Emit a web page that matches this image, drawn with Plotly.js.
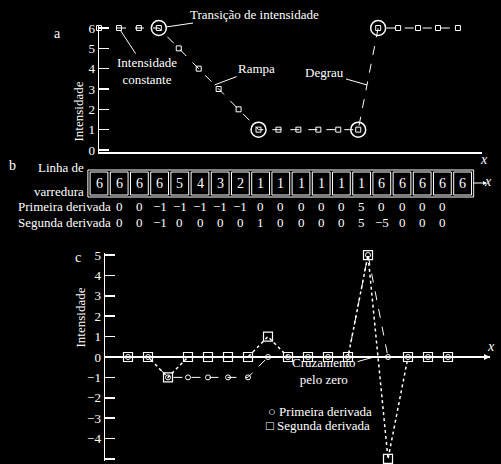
<!DOCTYPE html>
<html>
<head>
<meta charset="utf-8">
<script src="https://cdn.plot.ly/plotly-3.0.1.min.js"></script>
<style>html,body{margin:0;padding:0;background:#000;}#chart{width:501px;height:464px;}</style>
</head>
<body>
<div id="chart"></div>
<script>
// ---- data ----
const scanLine = [6, 6, 6, 6, 5, 4, 3, 2, 1, 1, 1, 1, 1, 1, 6, 6, 6, 6, 6];
const firstDeriv = [0, 0, -1, -1, -1, -1, -1, 0, 0, 0, 0, 0, 5, 0, 0, 0, 0];
const secondDeriv = [0, 0, -1, 0, 0, 0, 0, 1, 0, 0, 0, 0, 5, -5, 0, 0, 0];
const transitionIdx = [3, 8, 13, 14];
const topTicks = [0, 1, 2, 3, 4, 5, 6];
const bottomTicks = [-5, -4, -3, -2, -1, 0, 1, 2, 3, 4, 5];
const rowLabels = ['Primeira derivada', 'Segunda derivada'];
const legendLabels = ['\u25CB Primeira derivada', '\u25A1 Segunda derivada'];

// ---- helpers ----
const W = 501, H = 464;
const px = v => v / W;
const py = v => 1 - v / H;
const FONT = 'Liberation Serif, Times New Roman, DejaVu Serif, serif';
const WHITE = '#ffffff';
const fmt = v => (v < 0 ? '\u2212' + Math.abs(v) : String(v));

const scanX = scanLine.map((_, i) => i);
const derivX = firstDeriv.map((_, i) => i);

const traces = [
  {
    x: scanX, y: scanLine, xaxis: 'x', yaxis: 'y', type: 'scatter', mode: 'lines+markers',
    line: {color: WHITE, width: 1, dash: 'dash'},
    marker: {symbol: 'square-open', size: 5, color: WHITE, line: {color: WHITE, width: 1}},
    cliponaxis: false, showlegend: false, hoverinfo: 'skip'
  },
  {
    x: transitionIdx, y: transitionIdx.map(i => scanLine[i]), xaxis: 'x', yaxis: 'y',
    type: 'scatter', mode: 'markers',
    marker: {symbol: 'circle-open', size: 15, color: WHITE, line: {color: WHITE, width: 1.5}},
    cliponaxis: false, showlegend: false, hoverinfo: 'skip'
  },
  {
    x: derivX, y: secondDeriv, xaxis: 'x2', yaxis: 'y2', type: 'scatter', mode: 'lines+markers',
    name: 'Segunda derivada',
    line: {color: WHITE, width: 1.5, dash: 'dot'},
    marker: {symbol: 'square-open', size: 9, color: WHITE, line: {color: WHITE, width: 1.2}},
    cliponaxis: false, showlegend: false, hoverinfo: 'skip'
  },
  {
    x: derivX, y: firstDeriv, xaxis: 'x2', yaxis: 'y2', type: 'scatter', mode: 'lines+markers',
    name: 'Primeira derivada',
    line: {color: WHITE, width: 1, dash: 'dash'},
    marker: {symbol: 'circle-open', size: 5, color: WHITE, line: {color: WHITE, width: 1}},
    cliponaxis: false, showlegend: false, hoverinfo: 'skip'
  }
];

const annotations = [];
const shapes = [];
const txt = (text, x, y, opts = {}) => Object.assign({
  text, x: px(x), y: py(y), xref: 'paper', yref: 'paper', showarrow: false,
  font: {family: FONT, size: 13, color: WHITE}
}, opts);

// panel letters
annotations.push(txt('a', 52, 24, {font: {family: FONT, size: 14, color: WHITE}}));
annotations.push(txt('b', 7, 165, {font: {family: FONT, size: 14, color: WHITE}}));
annotations.push(txt('c', 73, 257, {font: {family: FONT, size: 14, color: WHITE}}));

// y titles
annotations.push(txt('Intensidade', 68, 80, {textangle: -90}));
annotations.push(txt('Intensidade', 70, 350, {textangle: -90}));

// x labels at axis ends
const italic = {family: FONT, size: 14, color: WHITE, style: 'italic'};
annotations.push(txt('x', 490, 150, {font: italic}));
annotations.push(txt('x', 497, 356, {font: italic}));
annotations.push(txt('x', 494, 182, {font: italic}));

// leader annotations
const lead = (text, x, y, ax, ay, xref, yref, standoff) => ({
  text, x, y, xref, yref, ax, ay, showarrow: true, arrowhead: 0, arrowwidth: 1,
  arrowcolor: WHITE, standoff: standoff || 0, font: {family: FONT, size: 13, color: WHITE}
});
annotations.push(lead('Transição de intensidade', 3, 6, 96, -14, 'x', 'y', 8));
annotations.push(lead('Intensidade<br>constante', 1, 6, 28, 43, 'x', 'y', 3));
annotations.push(lead('Rampa', 5.8, 3.2, 42, -16, 'x', 'y', 0));
annotations.push(lead('Degrau', 13.44, 3.2, -42, -12, 'x', 'y', 0));
annotations.push(lead('Cruzamento<br>pelo zero', 12.3, 0, -50, 14, 'x2', 'y2', 0));

// arrow at end of bottom x axis
annotations.push({text: '', x: 18.1, y: 0, xref: 'x2', yref: 'y2', ax: -14, ay: 0,
  showarrow: true, arrowhead: 2, arrowsize: 1, arrowwidth: 1.2, arrowcolor: WHITE});
// arrow after scan line
annotations.push({text: '', x: px(487), y: py(183), xref: 'paper', yref: 'paper', ax: -15, ay: 0,
  showarrow: true, arrowhead: 2, arrowsize: 0.8, arrowwidth: 1, arrowcolor: WHITE});

// scan line row (own hidden x axis x3)
annotations.push(txt('Linha de', 86, 168, {xanchor: 'right'}));
annotations.push(txt('varredura', 86, 191, {xanchor: 'right'}));
shapes.push({type: 'rect', xref: 'x3', yref: 'paper', x0: -0.55, x1: scanLine.length - 0.45,
  y0: py(197), y1: py(170), line: {color: WHITE, width: 1}});
scanLine.forEach((v, i) => {
  shapes.push({type: 'rect', xref: 'x3', yref: 'paper', x0: i - 0.44, x1: i + 0.44,
    y0: py(195), y1: py(172), line: {color: WHITE, width: 1}});
  annotations.push({text: String(v), x: i, y: py(183), xref: 'x3', yref: 'paper', showarrow: false,
    font: {family: FONT, size: 14, color: WHITE}});
});

// derivative rows
annotations.push(txt(rowLabels[0], 113, 207, {xanchor: 'right'}));
annotations.push(txt(rowLabels[1], 113, 222, {xanchor: 'right'}));
firstDeriv.forEach((v, i) => {
  annotations.push({text: fmt(v), x: i + 1, y: py(207), xref: 'x3', yref: 'paper', showarrow: false,
    font: {family: FONT, size: 13, color: WHITE}});
});
secondDeriv.forEach((v, i) => {
  annotations.push({text: fmt(v), x: i + 1, y: py(222), xref: 'x3', yref: 'paper', showarrow: false,
    font: {family: FONT, size: 13, color: WHITE}});
});

// legend (bottom plot)
annotations.push(txt(legendLabels[0], 266, 421, {xanchor: 'left'}));
annotations.push(txt(legendLabels[1], 264, 435, {xanchor: 'left'}));

const yAxisBase = {
  showgrid: false, zeroline: false, showline: true, linecolor: WHITE, linewidth: 1.5,
  ticks: 'inside', ticklen: 10, tickwidth: 1.5, tickcolor: WHITE,
  tickfont: {family: FONT, size: 13, color: WHITE}, tickmode: 'array'
};

const layout = {
  width: W, height: H,
  margin: {l: 0, r: 0, t: 0, b: 0},
  paper_bgcolor: '#000', plot_bgcolor: '#000',
  font: {family: FONT, color: WHITE, size: 13},
  showlegend: false,
  xaxis: {domain: [px(99), px(482)], range: [0, (482 - 99) / 19.94], showgrid: false, zeroline: false,
    showline: true, linecolor: WHITE, linewidth: 1.5, showticklabels: false, ticks: '', anchor: 'y'},
  yaxis: Object.assign({}, yAxisBase, {domain: [py(152), py(26)], range: [-0.1, 6.1],
    tickvals: topTicks, ticktext: topTicks.map(String), anchor: 'x'}),
  xaxis2: {domain: [px(105), px(490)], range: [-1.15, 18.1], showgrid: false, zeroline: false,
    showline: false, showticklabels: false, ticks: '', anchor: 'y2'},
  yaxis2: Object.assign({}, yAxisBase, {domain: [py(461), py(253)], range: [-5.1, 5.1],
    tickvals: bottomTicks, ticktext: bottomTicks.map(fmt), anchor: 'x2',
    zeroline: true, zerolinecolor: WHITE, zerolinewidth: 1.2}),
  xaxis3: {domain: [px(99 - 0.6 * 20.2), px(99 + 18.6 * 20.2)], range: [-0.6, 18.6],
    visible: false, anchor: 'y3'},
  yaxis3: {domain: [py(230), py(160)], range: [0, 1], visible: false, anchor: 'x3'},
  annotations, shapes
};

Plotly.newPlot('chart', traces, layout, {displayModeBar: false, staticPlot: true});
</script>
</body>
</html>
